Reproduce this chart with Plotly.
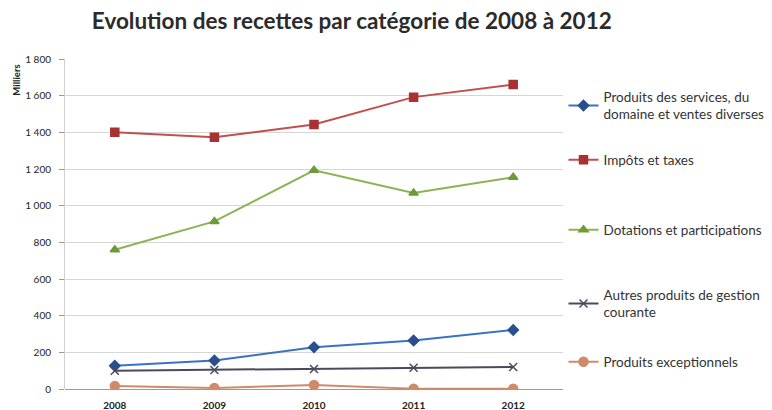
import plotly.graph_objects as go

years = ["2008", "2009", "2010", "2011", "2012"]
produits_services = [127, 155, 228, 264, 322]
impots_taxes = [1400, 1373, 1443, 1592, 1661]
dotations = [760, 914, 1193, 1069, 1155]
autres_produits = [100, 104, 109, 116, 120]
produits_exceptionnels = [16, 6, 22, 2, 2]

names = [
    "Produits des services, du<br>domaine et ventes diverses",
    "Impôts et taxes",
    "Dotations et participations",
    "Autres produits de gestion<br>courante",
    "Produits exceptionnels",
]
y_ticks = [0, 200, 400, 600, 800, 1000, 1200, 1400, 1600, 1800]

series = [produits_services, impots_taxes, dotations, autres_produits, produits_exceptionnels]
line_colors = ["#3a72c4", "#c0504d", "#8cb353", "#4a4a5e", "#d08a68"]
marker_colors = ["#2a4f8f", "#a83232", "#6d9a3a", "#4a4a5e", "#d08a68"]
symbols = ["diamond", "square", "triangle-up", "x-thin", "circle"]
sizes = [8, 8, 8, 8, 9]
legend_ids = ["legend", "legend2", "legend3", "legend4", "legend5"]
legend_y = [0.858, 0.694, 0.482, 0.258, 0.082]

fig = go.Figure()
for i, vals in enumerate(series):
    fig.add_trace(go.Scatter(
        x=years, y=vals, name=names[i], mode="lines+markers",
        line=dict(color=line_colors[i], width=2),
        marker=dict(symbol=symbols[i], size=sizes[i], color=marker_colors[i],
                    line=dict(color=marker_colors[i], width=1.5)),
        legend=legend_ids[i],
    ))

font_family = "Lato, 'Open Sans', sans-serif"
layout_legends = {}
for i, lid in enumerate(legend_ids):
    layout_legends[lid] = dict(
        x=1.001, y=legend_y[i], xanchor="left", yanchor="middle",
        bgcolor="rgba(0,0,0,0)", font=dict(family=font_family, size=13.5, color="#333333"),
        itemwidth=30,
    )

fig.update_layout(
    width=764, height=402,
    margin=dict(l=57, r=209, t=51, b=21, autoexpand=False),
    paper_bgcolor="white", plot_bgcolor="white",
    separators=", ",
    title=dict(text="<b>Evolution des recettes par catégorie de 2008 à 2012</b>",
               x=0.450, xanchor="center", y=0.968, yanchor="middle",
               font=dict(family=font_family, size=22.5, color="#2b2b2b")),
    showlegend=True,
    xaxis=dict(type="category", range=[-0.5, 4.5], showgrid=False, showline=False,
               automargin=False, ticklabelstandoff=9,
               ticks="", tickfont=dict(family=font_family, size=10, color="#222222"),
               tickprefix="<b>", ticksuffix="</b>"),
    yaxis=dict(range=[0, 1800], tickvals=y_ticks, tickformat=",d",
               automargin=False, ticklabelstandoff=6,
               showgrid=True, gridcolor="#d6d6d6", gridwidth=1,
               showline=True, linecolor="#d0d0d0", linewidth=1,
               ticks="outside", ticklen=5, tickcolor="#999999",
               zeroline=True, zerolinecolor="#9a9a9a", zerolinewidth=1,
               tickfont=dict(family=font_family, size=10, color="#222222"),
               tickprefix="<b>", ticksuffix="</b>"),
    annotations=[dict(text="<b>Milliers</b>", xref="paper", yref="paper",
                      x=-0.098, y=0.935, xanchor="center", yanchor="middle",
                      textangle=-90, showarrow=False,
                      font=dict(family=font_family, size=9.5, color="#222222"))],
    **layout_legends,
)

fig.write_html("out.html")
